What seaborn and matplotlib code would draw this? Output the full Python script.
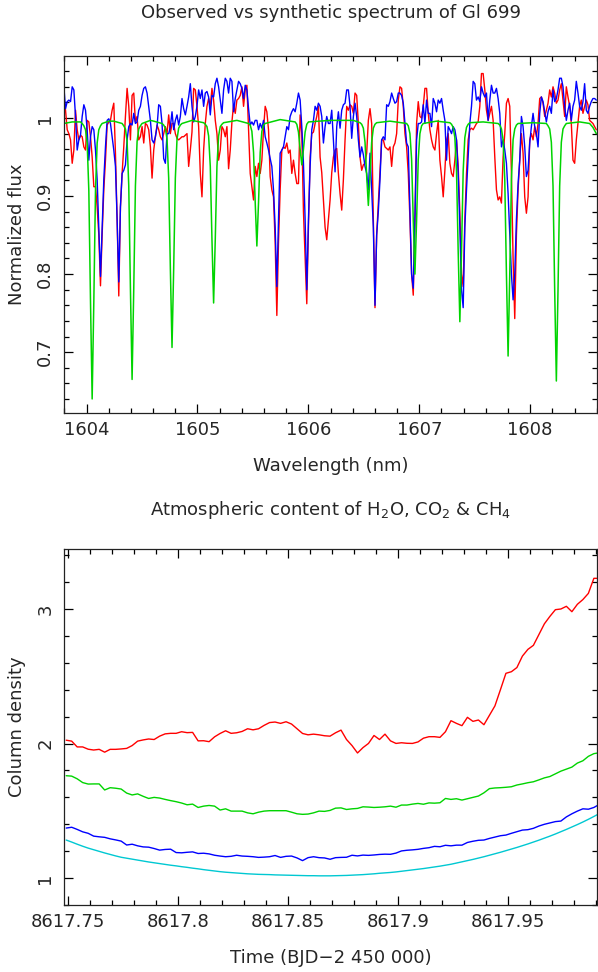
import numpy as np
import seaborn as sns
import matplotlib
matplotlib.use("Agg")
import matplotlib.pyplot as plt
from matplotlib.ticker import MultipleLocator, FuncFormatter

# --- top panel: spectra (observed on a regular wavelength grid) ---
wl_start = 1603.796
wl_step = 0.015

obs_red = [
    1.023, 1.010, 0.985, 0.980, 0.972, 0.942, 0.959, 1.010, 0.985, 0.972,
    0.978, 0.976, 0.963, 0.959, 0.997, 0.995, 0.976, 0.950, 0.912, 0.912,
    0.886, 0.850, 0.785, 0.850, 0.908, 0.946, 0.991, 0.995, 0.997, 1.010,
    1.019, 0.955, 0.870, 0.772, 0.886, 0.929, 0.963, 1.002, 1.038, 1.015,
    0.972, 1.029, 1.032, 0.995, 1.002, 0.972, 0.976, 0.989, 0.968, 0.993,
    0.991, 0.985, 0.963, 0.923, 0.959, 0.976, 0.991, 0.985, 0.976, 0.972,
    0.980, 0.989, 0.980, 1.004, 0.980, 0.993, 0.993, 0.980, 0.974, 0.972,
    0.974, 0.976, 0.976, 0.978, 0.980, 0.938, 0.959, 0.982, 1.038, 1.036,
    1.015, 0.989, 0.929, 0.899, 0.959, 0.993, 1.015, 1.025, 1.015, 1.038,
    1.023, 0.997, 0.980, 0.946, 0.959, 0.989, 0.985, 0.976, 0.989, 0.935,
    0.959, 0.995, 1.017, 1.006, 1.023, 1.025, 1.029, 1.040, 1.015, 1.036,
    1.042, 0.985, 0.929, 0.912, 0.895, 0.938, 0.925, 0.942, 0.929, 0.946,
    0.985, 1.015, 1.008, 0.985, 0.925, 0.908, 0.899, 0.840, 0.747, 0.840,
    0.908, 0.959, 0.963, 0.961, 0.968, 0.955, 0.959, 0.929, 0.946, 0.929,
    0.916, 0.916, 1.004, 0.980, 0.880, 0.820, 0.762, 0.860, 0.950, 0.980,
    0.982, 0.993, 1.002, 1.015, 0.950, 0.930, 0.895, 0.860, 0.844, 0.870,
    0.895, 0.930, 0.950, 0.959, 0.961, 0.929, 0.903, 0.882, 0.921, 0.972,
    1.015, 1.010, 1.017, 1.015, 1.006, 1.032, 1.029, 0.993, 0.950, 0.933,
    0.940, 0.942, 0.955, 0.997, 1.012, 0.993, 0.870, 0.757, 0.850, 0.890,
    0.929, 0.972, 0.972, 0.963, 0.961, 0.959, 0.963, 0.938, 0.963, 0.968,
    0.980, 1.023, 1.040, 1.038, 1.015, 0.980, 0.963, 0.929, 0.870, 0.800,
    0.773, 0.870, 0.993, 1.021, 1.002, 1.000, 1.015, 1.038, 1.038, 1.006,
    0.985, 0.972, 0.963, 0.959, 0.980, 0.997, 0.946, 0.925, 0.899, 0.933,
    0.972, 0.980, 0.942, 0.929, 0.925, 0.946, 0.972, 0.938, 0.880, 0.800,
    0.784, 0.870, 0.929, 0.972, 0.985, 0.987, 0.985, 0.989, 0.993, 0.995,
    1.015, 1.057, 1.057, 1.036, 1.010, 0.997, 1.006, 1.015, 0.997, 0.950,
    0.908, 0.895, 0.899, 0.891, 0.950, 0.980, 1.019, 1.025, 1.015, 0.929,
    0.820, 0.743, 0.850, 0.908, 0.946, 0.980, 0.955, 0.899, 0.878, 0.899,
    0.972, 0.980, 0.972, 0.989, 0.976, 0.993, 1.025, 1.027, 1.019, 1.002,
    1.010, 1.019, 1.036, 1.027, 1.040, 1.032, 1.019, 1.023, 1.036, 1.044,
    1.023, 1.002, 1.040, 1.027, 1.015, 0.993, 0.946, 0.942, 0.972, 0.993,
    1.015, 1.023, 1.006, 1.015, 1.023, 1.017, 0.997, 0.995, 0.993, 0.989, 0.985,
]

obs_blue = [
    1.040, 1.012, 1.021, 1.023, 1.021, 1.040, 1.036, 1.002, 0.959, 0.972,
    0.978, 1.002, 1.017, 1.010, 0.985, 0.946, 0.976, 0.989, 0.985, 0.959,
    0.921, 0.860, 0.797, 0.860, 0.921, 0.963, 0.997, 0.999, 0.993, 0.976,
    0.959, 0.938, 0.870, 0.790, 0.886, 0.929, 0.933, 0.940, 0.972, 0.989,
    0.993, 0.991, 1.006, 0.993, 0.995, 1.010, 1.015, 1.029, 1.038, 1.040,
    1.032, 1.015, 0.997, 0.972, 0.968, 0.976, 0.989, 1.017, 1.015, 0.993,
    0.948, 0.942, 0.980, 0.980, 0.989, 1.008, 0.985, 0.997, 1.004, 0.991,
    1.002, 1.025, 1.012, 1.004, 1.015, 1.027, 1.044, 1.015, 0.995, 1.002,
    1.015, 1.036, 1.025, 1.036, 1.015, 1.032, 1.034, 1.027, 1.004, 1.029,
    1.027, 1.044, 1.051, 1.040, 1.023, 1.006, 1.036, 1.051, 1.047, 1.032,
    1.051, 1.047, 1.008, 1.025, 1.036, 1.047, 1.044, 1.038, 1.025, 1.042,
    1.036, 1.012, 0.991, 0.995, 0.991, 0.997, 0.997, 0.985, 0.993, 0.987,
    0.997, 0.976, 0.968, 0.959, 0.948, 0.938, 0.908, 0.860, 0.784, 0.870,
    0.955, 0.959, 0.963, 0.976, 0.989, 0.985, 1.002, 1.008, 1.012, 1.008,
    1.019, 1.032, 1.023, 0.989, 0.942, 0.870, 0.780, 0.870, 0.938, 0.985,
    0.997, 1.015, 1.010, 1.019, 1.015, 1.002, 0.968, 0.989, 1.002, 0.993,
    0.993, 1.010, 0.972, 0.931, 0.989, 1.008, 0.987, 1.010, 1.017, 1.019,
    1.036, 1.036, 1.015, 0.974, 1.002, 1.019, 1.002, 0.972, 0.950, 0.963,
    0.953, 0.938, 0.929, 0.908, 0.955, 0.908, 0.860, 0.760, 0.850, 0.880,
    0.921, 0.972, 0.976, 0.972, 1.017, 1.015, 1.021, 1.032, 1.025, 1.019,
    1.021, 1.032, 1.032, 1.029, 1.019, 0.993, 0.968, 0.963, 0.880, 0.800,
    0.782, 0.870, 0.972, 0.993, 0.993, 0.995, 1.017, 0.993, 1.023, 1.006,
    1.006, 0.989, 1.025, 1.019, 1.008, 1.023, 1.019, 1.025, 1.010, 0.997,
    0.946, 0.989, 0.985, 0.980, 0.989, 0.985, 0.972, 0.929, 0.860, 0.780,
    0.757, 0.860, 0.908, 0.950, 0.993, 1.015, 1.047, 1.044, 1.023, 1.027,
    1.021, 1.040, 1.032, 1.027, 1.032, 0.997, 1.023, 1.042, 1.032, 1.032,
    1.038, 1.025, 1.006, 0.963, 0.972, 0.959, 0.942, 0.903, 0.850, 0.800,
    0.767, 0.800, 0.870, 0.916, 0.946, 1.002, 0.989, 0.963, 0.925, 0.933,
    0.968, 0.989, 1.006, 0.989, 0.980, 0.963, 1.006, 1.027, 1.021, 1.008,
    0.995, 1.008, 1.015, 1.006, 1.036, 1.021, 1.025, 1.036, 1.051, 1.051,
    1.040, 1.015, 0.997, 1.010, 1.019, 0.997, 1.015, 1.023, 1.047, 1.032,
    1.015, 1.010, 1.021, 1.044, 1.010, 1.006, 1.015, 1.021, 1.025, 1.025, 1.023,
]

synth_wl = [
    1603.796, 1603.871, 1603.946, 1603.961, 1603.976, 1603.991, 1604.006, 1604.021,
    1604.036, 1604.051, 1604.066, 1604.081, 1604.096, 1604.111, 1604.126, 1604.141,
    1604.201, 1604.246, 1604.321, 1604.336, 1604.351, 1604.366, 1604.381, 1604.396,
    1604.411, 1604.426, 1604.441, 1604.456, 1604.471, 1604.486, 1604.501, 1604.576,
    1604.606, 1604.681, 1604.696, 1604.711, 1604.726, 1604.741, 1604.756, 1604.771,
    1604.786, 1604.801, 1604.816, 1604.831, 1604.846, 1604.861, 1604.951, 1605.056,
    1605.071, 1605.086, 1605.101, 1605.116, 1605.131, 1605.146, 1605.161, 1605.176,
    1605.191, 1605.206, 1605.221, 1605.236, 1605.356, 1605.461, 1605.476, 1605.491,
    1605.506, 1605.521, 1605.536, 1605.551, 1605.566, 1605.581, 1605.596, 1605.611,
    1605.746, 1605.881, 1605.896, 1605.911, 1605.926, 1605.941, 1605.956, 1605.971,
    1605.986, 1606.001, 1606.196, 1606.406, 1606.466, 1606.481, 1606.496, 1606.511,
    1606.526, 1606.541, 1606.556, 1606.571, 1606.586, 1606.601, 1606.616, 1606.736,
    1606.886, 1606.901, 1606.916, 1606.931, 1606.946, 1606.961, 1606.976, 1606.991,
    1607.006, 1607.021, 1607.036, 1607.156, 1607.276, 1607.291, 1607.306, 1607.321,
    1607.336, 1607.351, 1607.366, 1607.381, 1607.396, 1607.411, 1607.426, 1607.441,
    1607.456, 1607.576, 1607.711, 1607.726, 1607.741, 1607.756, 1607.771, 1607.786,
    1607.801, 1607.816, 1607.831, 1607.846, 1607.861, 1607.876, 1607.891, 1608.026,
    1608.146, 1608.161, 1608.176, 1608.191, 1608.206, 1608.221, 1608.236, 1608.251,
    1608.266, 1608.281, 1608.296, 1608.311, 1608.326, 1608.446, 1608.536, 1608.566,
    1608.596,
]
synth_flux = [
    0.993, 0.995, 0.995, 0.993, 0.990, 0.985, 0.968, 0.907,
    0.765, 0.640, 0.765, 0.907, 0.968, 0.985, 0.990, 0.993,
    0.996, 0.996, 0.993, 0.990, 0.986, 0.970, 0.913, 0.781,
    0.665, 0.781, 0.913, 0.970, 0.986, 0.990, 0.993, 0.997,
    0.996, 0.993, 0.991, 0.987, 0.973, 0.923, 0.807, 0.706,
    0.807, 0.923, 0.973, 0.987, 0.991, 0.993, 0.997, 0.994,
    0.992, 0.989, 0.977, 0.938, 0.845, 0.763, 0.845, 0.938,
    0.977, 0.989, 0.992, 0.994, 0.997, 0.993, 0.991, 0.983,
    0.956, 0.892, 0.836, 0.892, 0.956, 0.983, 0.991, 0.993,
    0.998, 0.995, 0.992, 0.982, 0.960, 0.940, 0.960, 0.982,
    0.992, 0.995, 0.997, 0.997, 0.994, 0.992, 0.987, 0.969,
    0.926, 0.888, 0.926, 0.969, 0.987, 0.992, 0.994, 0.996,
    0.993, 0.990, 0.980, 0.947, 0.869, 0.800, 0.869, 0.947,
    0.980, 0.990, 0.993, 0.996, 0.994, 0.992, 0.988, 0.975,
    0.932, 0.829, 0.739, 0.829, 0.932, 0.975, 0.988, 0.992,
    0.994, 0.995, 0.993, 0.991, 0.986, 0.972, 0.921, 0.800,
    0.695, 0.800, 0.921, 0.972, 0.986, 0.991, 0.993, 0.994,
    0.993, 0.990, 0.986, 0.969, 0.913, 0.780, 0.663, 0.780,
    0.913, 0.969, 0.986, 0.990, 0.993, 0.995, 0.993, 0.988,
    0.980,
]

# --- bottom panel: column densities vs time (regular time grid) ---
t_start = 8617.749
t_step = 0.0025

h2o = [
    2.025, 2.018, 1.975, 1.975, 1.958, 1.952, 1.957, 1.936, 1.957, 1.957,
    1.960, 1.964, 1.985, 2.018, 2.027, 2.034, 2.030, 2.055, 2.072, 2.076,
    2.076, 2.088, 2.081, 2.083, 2.020, 2.021, 2.014, 2.050, 2.075, 2.095,
    2.076, 2.080, 2.090, 2.110, 2.102, 2.110, 2.135, 2.156, 2.160, 2.150,
    2.162, 2.145, 2.110, 2.075, 2.065, 2.070, 2.065, 2.058, 2.055, 2.080,
    2.100, 2.030, 1.985, 1.930, 1.970, 2.001, 2.060, 2.030, 2.070, 2.020,
    2.001, 2.006, 2.002, 2.001, 2.012, 2.040, 2.051, 2.051, 2.046, 2.088,
    2.170, 2.150, 2.133, 2.195, 2.165, 2.175, 2.140, 2.210, 2.280, 2.400,
    2.522, 2.534, 2.565, 2.650, 2.700, 2.730, 2.810, 2.890, 2.945, 2.995,
    3.000, 3.020, 2.980, 3.035, 3.070, 3.116, 3.228, 3.228,
]
co2 = [
    1.761, 1.758, 1.738, 1.710, 1.699, 1.700, 1.700, 1.655, 1.672, 1.668,
    1.662, 1.632, 1.618, 1.626, 1.608, 1.592, 1.600, 1.595, 1.585, 1.576,
    1.568, 1.558, 1.545, 1.550, 1.525, 1.535, 1.540, 1.535, 1.506, 1.515,
    1.498, 1.498, 1.498, 1.485, 1.478, 1.490, 1.498, 1.501, 1.501, 1.501,
    1.501, 1.490, 1.478, 1.474, 1.476, 1.485, 1.498, 1.496, 1.503, 1.520,
    1.522, 1.510, 1.515, 1.518, 1.530, 1.528, 1.525, 1.527, 1.530, 1.535,
    1.527, 1.543, 1.543, 1.550, 1.555, 1.549, 1.559, 1.557, 1.560, 1.592,
    1.585, 1.590, 1.580, 1.590, 1.600, 1.610, 1.634, 1.665, 1.670, 1.672,
    1.675, 1.679, 1.692, 1.700, 1.709, 1.716, 1.730, 1.745, 1.755, 1.775,
    1.795, 1.810, 1.825, 1.855, 1.872, 1.905, 1.925, 1.932,
]
ch4 = [
    1.372, 1.378, 1.362, 1.344, 1.333, 1.312, 1.307, 1.303, 1.292, 1.284,
    1.275, 1.246, 1.252, 1.240, 1.232, 1.230, 1.220, 1.208, 1.213, 1.215,
    1.190, 1.188, 1.192, 1.195, 1.183, 1.185, 1.180, 1.170, 1.164, 1.159,
    1.162, 1.170, 1.164, 1.162, 1.159, 1.154, 1.156, 1.159, 1.168, 1.154,
    1.162, 1.164, 1.150, 1.130, 1.152, 1.159, 1.152, 1.150, 1.140, 1.152,
    1.154, 1.155, 1.170, 1.165, 1.171, 1.169, 1.172, 1.176, 1.178, 1.177,
    1.186, 1.202, 1.207, 1.210, 1.214, 1.221, 1.226, 1.236, 1.233, 1.244,
    1.240, 1.245, 1.245, 1.265, 1.274, 1.281, 1.283, 1.295, 1.305, 1.315,
    1.320, 1.333, 1.345, 1.357, 1.360, 1.370, 1.387, 1.400, 1.410, 1.420,
    1.424, 1.455, 1.478, 1.498, 1.515, 1.512, 1.525, 1.548,
]
airmass = [
    1.283, 1.268, 1.252, 1.237, 1.223, 1.211, 1.199, 1.187, 1.176, 1.165,
    1.155, 1.148, 1.141, 1.134, 1.127, 1.120, 1.114, 1.108, 1.102, 1.096,
    1.091, 1.085, 1.080, 1.074, 1.069, 1.063, 1.058, 1.053, 1.048, 1.044,
    1.041, 1.038, 1.035, 1.032, 1.030, 1.028, 1.027, 1.026, 1.024, 1.023,
    1.022, 1.021, 1.020, 1.019, 1.018, 1.018, 1.017, 1.017, 1.017, 1.018,
    1.019, 1.020, 1.022, 1.024, 1.026, 1.029, 1.032, 1.036, 1.039, 1.042,
    1.046, 1.051, 1.056, 1.061, 1.066, 1.071, 1.077, 1.083, 1.089, 1.096,
    1.103, 1.112, 1.121, 1.130, 1.139, 1.149, 1.159, 1.170, 1.181, 1.192,
    1.204, 1.216, 1.228, 1.241, 1.254, 1.268, 1.282, 1.297, 1.312, 1.328,
    1.345, 1.362, 1.380, 1.398, 1.417, 1.437, 1.458, 1.480,
]

RED = "#ff0000"
BLUE = "#0000ff"
GREEN = "#00d400"
CYAN = "#00c8d2"
FS = 13

sns.set_style("ticks")
plt.rcParams["font.family"] = ["DejaVu Sans"]
plt.rcParams["axes.linewidth"] = 0.9


def g_fmt(v, pos):
    return f"{v:g}"


def pgplot_axes(ax, xmaj, xmin, ymaj, ymin):
    ax.xaxis.set_major_locator(MultipleLocator(xmaj))
    ax.xaxis.set_minor_locator(MultipleLocator(xmin))
    ax.yaxis.set_major_locator(MultipleLocator(ymaj))
    ax.yaxis.set_minor_locator(MultipleLocator(ymin))
    ax.xaxis.set_major_formatter(FuncFormatter(g_fmt))
    ax.yaxis.set_major_formatter(FuncFormatter(g_fmt))
    ax.tick_params(which="both", direction="in", top=True, right=True,
                   color="black", width=0.9, labelsize=FS)
    ax.tick_params(which="major", length=6.5)
    ax.tick_params(which="minor", length=3.3)
    ax.tick_params(axis="x", pad=6)
    ax.tick_params(axis="y", pad=7, labelrotation=90)
    for lbl in ax.get_yticklabels():
        lbl.set_va("center")
    for sp in ax.spines.values():
        sp.set_color("#222222")
        sp.set_linewidth(0.9)


fig = plt.figure(figsize=(5.98, 9.72), dpi=100)
ax1 = fig.add_axes([0.107, 0.5751, 0.8916, 0.3673])
ax2 = fig.add_axes([0.107, 0.0689, 0.8916, 0.3663])

wl = wl_start + wl_step * np.arange(len(obs_red))
wl_b = wl_start + wl_step * np.arange(len(obs_blue))
sns.lineplot(x=wl, y=obs_red, ax=ax1, color=RED, lw=1.0, estimator=None, sort=False)
sns.lineplot(x=wl_b, y=obs_blue, ax=ax1, color=BLUE, lw=1.0, estimator=None, sort=False)
sns.lineplot(x=synth_wl, y=synth_flux, ax=ax1, color=GREEN, lw=1.1, estimator=None, sort=False)
ax1.set_xlim(1603.797, 1608.604)
ax1.set_ylim(0.622, 1.0795)
pgplot_axes(ax1, 1, 0.2, 0.1, 0.02)
ax1.set_xlabel("Wavelength (nm)", fontsize=FS)
ax1.xaxis.set_label_coords(0.5, -0.1485)
ax1.xaxis.label.set_va("center")
ax1.set_ylabel("Normalized flux", fontsize=FS)
ax1.yaxis.set_label_coords(-0.088, 0.5)
ax1.yaxis.label.set_va("center")
ax1.set_title("Observed vs synthetic spectrum of Gl 699", fontsize=FS,
              y=1.1204, pad=0, va="center")

for series, col in [(h2o, RED), (co2, GREEN), (ch4, BLUE), (airmass, CYAN)]:
    tt = t_start + t_step * np.arange(len(series))
    sns.lineplot(x=tt, y=series, ax=ax2, color=col, lw=1.0, estimator=None, sort=False)
ax2.set_xlim(8617.748, 8617.9905)
ax2.set_ylim(0.8, 3.446)
pgplot_axes(ax2, 0.05, 0.01, 1, 0.2)
ax2.set_xlabel("Time (BJD\u22122 450 000)", fontsize=FS)
ax2.xaxis.set_label_coords(0.5, -0.149)
ax2.xaxis.label.set_va("center")
ax2.set_ylabel("Column density", fontsize=FS)
ax2.yaxis.set_label_coords(-0.088, 0.5)
ax2.yaxis.label.set_va("center")
ax2.set_title(r"Atmospheric content of H$_2$O, CO$_2$ & CH$_4$", fontsize=FS,
              y=1.11, pad=0, va="center")

fig.savefig("out.png", dpi=100)
